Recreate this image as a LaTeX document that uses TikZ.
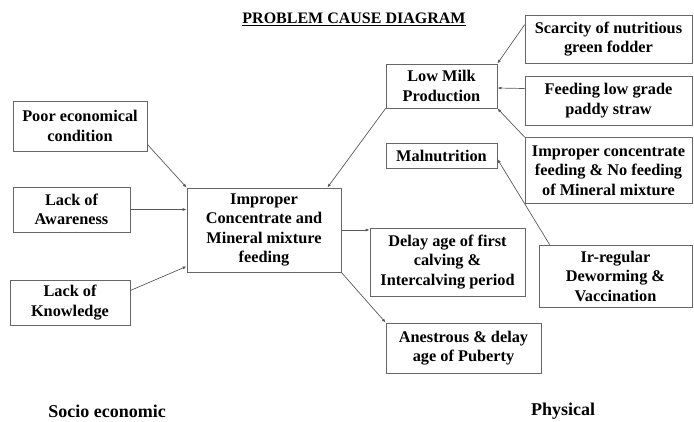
\documentclass[tikz,border=0pt]{standalone}
\usepackage{fontspec}
\setmainfont{Liberation Serif}
\usetikzlibrary{arrows.meta}
\begin{document}
\begin{tikzpicture}[x=1pt,y=-1pt,
  box/.style={draw=black!60, line width=0.7pt, inner sep=0pt, align=center,
    font=\fontsize{16.3}{19.5}\selectfont\bfseries, anchor=center},
  arr/.style={draw=black!65, line width=0.7pt, -{Latex[length=4pt,width=3pt]}},
  lbl/.style={font=\fontsize{18}{20}\selectfont\bfseries, inner sep=0pt}]
\useasboundingbox (0,0) rectangle (694,421);
\node[lbl, font=\fontsize{16}{18}\selectfont\bfseries] (title) at (354,19) {\underline{PROBLEM CAUSE DIAGRAM}};
\node[box, minimum width=134pt, minimum height=50pt] (poor) at (80,126) {Poor economical\\condition};
\node[box, minimum width=117pt, minimum height=45pt] (aware) at (71.5,209.5) {Lack of\\Awareness};
\node[box, minimum width=120pt, minimum height=45pt] (know) at (70,302.5) {Lack of\\Knowledge};
\node[box, minimum width=154pt, minimum height=84pt] (imp) at (264,230) {Improper\\Concentrate and\\Mineral mixture\\feeding};
\node[box, minimum width=111pt, minimum height=44pt] (milk) at (441.5,86) {Low Milk\\Production};
\node[box, minimum width=167pt, minimum height=48pt] (scar) at (608.5,39) {Scarcity of nutritious\\green fodder};
\node[box, minimum width=167pt, minimum height=49pt] (feed) at (608.5,100.5) {Feeding low grade\\paddy straw};
\node[box, minimum width=167pt, minimum height=66pt] (impc) at (608.5,170.5) {Improper concentrate\\feeding \& No feeding\\of Mineral mixture};
\node[box, minimum width=111pt, minimum height=25pt] (mal) at (441.5,155.5) {Malnutrition};
\node[box, minimum width=153pt, minimum height=62pt] (irr) at (615.5,276) {Ir-regular\\Deworming \&\\Vaccination};
\node[box, minimum width=155pt, minimum height=68pt] (delay) at (447.5,262) {Delay age of first\\calving \&\\Intercalving period};
\node[box, minimum width=155pt, minimum height=50pt] (anes) at (463.5,348) {Anestrous \& delay\\age of Puberty};
\node[lbl] (socio) at (107,411) {Socio economic};
\node[lbl] (phys) at (563,411) {Physical};
\draw[arr] ([yshift=7pt]poor.south east) -- (imp.north west);
\draw[arr] (aware.east) -- (imp.west |- aware.east);
\draw[arr] ([yshift=12pt]know.east) -- ([yshift=6pt]imp.south west);
\draw[arr] (milk.south west) -- ([xshift=-14pt]imp.north east);
\draw[arr] ([yshift=-10pt]scar.north west) -- (milk.north east);
\draw[arr] ([yshift=12pt]feed.west) -- ([yshift=-2pt]milk.east);
\draw[arr] (impc.north west) -- (milk.south east);
\draw[arr] ([xshift=11pt]irr.north west) -- ([yshift=-3.5pt]mal.east);
\draw[arr] (imp.east) -- (delay.west |- imp.east);
\draw[arr] (imp.south east) -- (anes.north west);
\end{tikzpicture}
\end{document}
